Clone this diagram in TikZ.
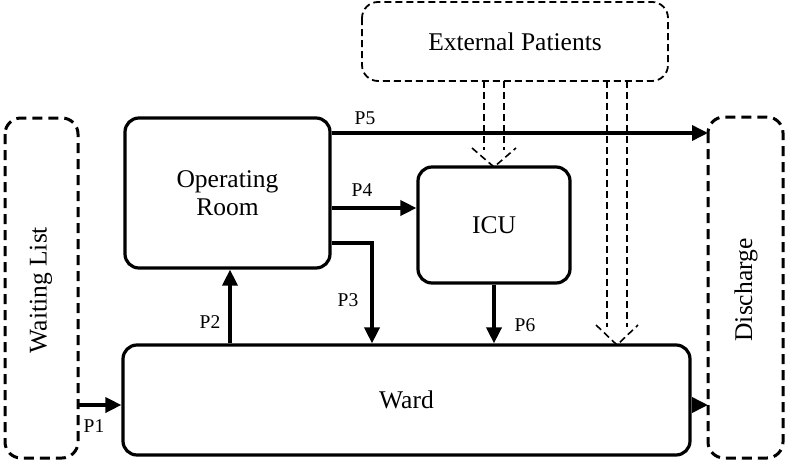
\documentclass[tikz,border=0pt]{standalone}
\usepackage{fontspec}
\setmainfont{Liberation Serif}
\usetikzlibrary{arrows.meta}
\begin{document}
\begin{tikzpicture}[x=1pt,y=-1pt,
 box/.style={draw,line width=3.2pt,rounded corners=14pt},
 dbox/.style={draw,line width=3pt,dash pattern=on 10pt off 6pt,rounded corners=16pt},
 lab/.style={font=\fontsize{25.5}{28}\selectfont,align=center},
 pl/.style={font=\fontsize{19.5}{21}\selectfont},
 ar/.style={line width=3.6pt,-{Triangle[length=16pt,width=15pt]}},
 dl/.style={line width=1.6pt,dash pattern=on 7pt off 4pt}]
\useasboundingbox (0,0) rectangle (787,461);
\draw[dbox] (5,118) rectangle (78,458);
\node[lab,rotate=90] (wl) at (41,290) {Waiting List};
\draw[dbox] (708,117) rectangle (783,458);
\node[lab,rotate=90] (dc) at (746,290) {Discharge};
\draw[dbox,line width=1.8pt,dash pattern=on 7pt off 4pt] (362,2) rectangle (668,81);
\node[lab] (ep) at (515,42) {External Patients};
\node[box,minimum width=205pt,minimum height=150pt,lab] (or) at (227.5,193) {Operating\\Room};
\node[box,minimum width=152pt,minimum height=116pt,lab] (icu) at (494,225) {ICU};
\node[box,minimum width=567pt,minimum height=110pt,lab] (ward) at (406.5,400) {Ward};
\coordinate (wlr) at (78,405);
\coordinate (dcl) at (708,405);
\coordinate (dct) at (708,133);
\draw[ar] (or.east|-0,133) -- (dct);
\node[pl] at (365,118) {P5};
\draw[ar] (or.east|-0,208) -- (icu.west|-0,208);
\node[pl] at (362,190) {P4};
\draw[ar] (or.east|-0,243) -- (372,243) -- (ward.north-|372,0);
\node[pl] at (348,300) {P3};
\draw[ar] (ward.north-|230,0) -- (or.south-|230,0);
\node[pl] at (210,322) {P2};
\draw[ar] (icu.south) -- (ward.north-|icu.south);
\node[pl] at (525,325) {P6};
\draw[ar] (wlr) -- (ward.west|-wlr);
\node[pl] at (94,426) {P1};
\draw[ar] (ward.east|-dcl) -- (dcl);
% double dashed arrows
\draw[dl] (484,81) -- (484,150) (504,81) -- (504,150);
\draw[dl] (472,148) -- (494,167) -- (516,148);
\draw[dl] (607,81) -- (607,327) (627,81) -- (627,327);
\draw[dl] (596,325) -- (617,345) -- (638,325);
\end{tikzpicture}
\end{document}
